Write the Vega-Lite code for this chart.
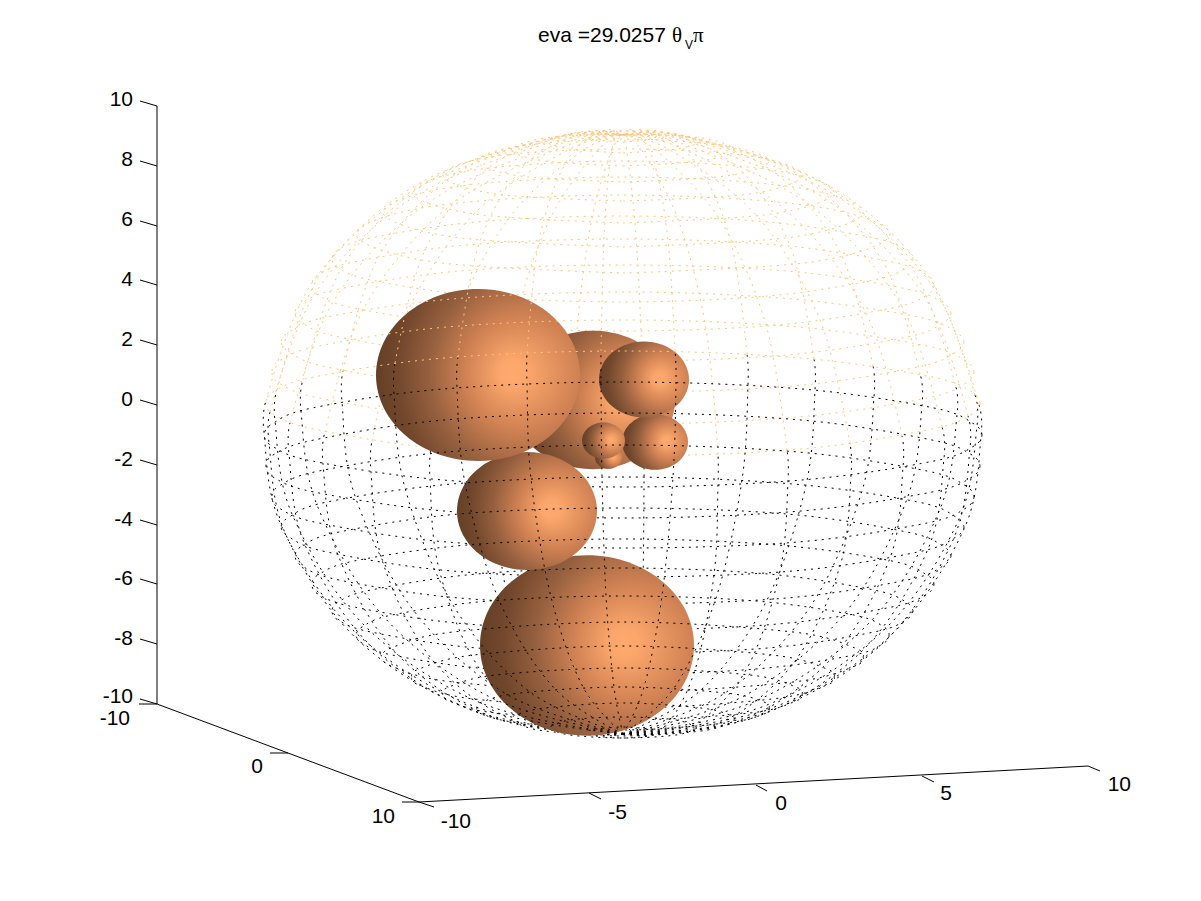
{"$schema":"https://vega.github.io/schema/vega-lite/v6.json","width":1201,"height":901,"padding":0,"autosize":{"type":"fit","contains":"padding"},"background":"white","config":{"view":{"stroke":null}},
"datasets":{
"farBlack":[
{"g":1,"u":982,"v":435},{"g":1,"u":974,"v":446},{"g":1,"u":934,"v":461},{"g":1,"u":802,"v":480},{"g":1,"u":623,"v":487},{"g":1,"u":443,"v":480},{"g":1,"u":312,"v":461},{"g":1,"u":272,"v":446},{"g":1,"u":264,"v":435},
{"g":2,"u":980,"v":466},{"g":2,"u":972,"v":477},{"g":2,"u":932,"v":492},{"g":2,"u":801,"v":511},{"g":2,"u":623,"v":518},{"g":2,"u":444,"v":511},{"g":2,"u":314,"v":492},{"g":2,"u":273,"v":477},{"g":2,"u":266,"v":466},
{"g":3,"u":974,"v":497},{"g":3,"u":966,"v":508},{"g":3,"u":927,"v":523},{"g":3,"u":798,"v":542},{"g":3,"u":623,"v":548},{"g":3,"u":447,"v":542},{"g":3,"u":319,"v":523},{"g":3,"u":279,"v":508},{"g":3,"u":272,"v":497},
{"g":4,"u":964,"v":527},{"g":4,"u":956,"v":537},{"g":4,"u":918,"v":552},{"g":4,"u":793,"v":571},{"g":4,"u":623,"v":577},{"g":4,"u":452,"v":571},{"g":4,"u":327,"v":552},{"g":4,"u":289,"v":537},{"g":4,"u":281,"v":527},
{"g":5,"u":951,"v":556},{"g":5,"u":943,"v":566},{"g":5,"u":907,"v":580},{"g":5,"u":787,"v":598},{"g":5,"u":623,"v":604},{"g":5,"u":459,"v":598},{"g":5,"u":339,"v":580},{"g":5,"u":302,"v":566},{"g":5,"u":295,"v":556},
{"g":6,"u":934,"v":584},{"g":6,"u":927,"v":594},{"g":6,"u":892,"v":607},{"g":6,"u":778,"v":624},{"g":6,"u":623,"v":630},{"g":6,"u":467,"v":624},{"g":6,"u":354,"v":607},{"g":6,"u":318,"v":594},{"g":6,"u":312,"v":584},
{"g":7,"u":913,"v":611},{"g":7,"u":906,"v":620},{"g":7,"u":874,"v":632},{"g":7,"u":768,"v":648},{"g":7,"u":623,"v":653},{"g":7,"u":477,"v":648},{"g":7,"u":371,"v":632},{"g":7,"u":338,"v":620},{"g":7,"u":332,"v":611},
{"g":8,"u":889,"v":635},{"g":8,"u":884,"v":643},{"g":8,"u":854,"v":655},{"g":8,"u":756,"v":669},{"g":8,"u":623,"v":674},{"g":8,"u":489,"v":669},{"g":8,"u":392,"v":655},{"g":8,"u":362,"v":643},{"g":8,"u":356,"v":635},
{"g":9,"u":863,"v":657},{"g":9,"u":855,"v":666},{"g":9,"u":793,"v":682},{"g":9,"u":623,"v":692},{"g":9,"u":453,"v":682},{"g":9,"u":391,"v":666},{"g":9,"u":383,"v":657},
{"g":10,"u":834,"v":677},{"g":10,"u":827,"v":685},{"g":10,"u":772,"v":699},{"g":10,"u":623,"v":708},{"g":10,"u":474,"v":699},{"g":10,"u":419,"v":685},{"g":10,"u":412,"v":677},
{"g":11,"u":802,"v":694},{"g":11,"u":796,"v":701},{"g":11,"u":750,"v":713},{"g":11,"u":623,"v":720},{"g":11,"u":496,"v":713},{"g":11,"u":449,"v":701},{"g":11,"u":443,"v":694},
{"g":12,"u":769,"v":708},{"g":12,"u":764,"v":714},{"g":12,"u":726,"v":723},{"g":12,"u":623,"v":730},{"g":12,"u":520,"v":723},{"g":12,"u":482,"v":714},{"g":12,"u":477,"v":708},
{"g":13,"u":734,"v":719},{"g":13,"u":730,"v":723},{"g":13,"u":701,"v":731},{"g":13,"u":623,"v":736},{"g":13,"u":545,"v":731},{"g":13,"u":516,"v":723},{"g":13,"u":512,"v":719},
{"g":14,"u":697,"v":728},{"g":14,"u":676,"v":735},{"g":14,"u":623,"v":738},{"g":14,"u":570,"v":735},{"g":14,"u":548,"v":728},
{"g":15,"u":660,"v":732},{"g":15,"u":649,"v":736},{"g":15,"u":623,"v":738},{"g":15,"u":596,"v":736},{"g":15,"u":585,"v":732},
{"g":21,"u":623,"v":734},{"g":21,"u":769,"v":709},{"g":21,"u":889,"v":637},{"g":21,"u":964,"v":529},{"g":21,"u":981,"v":437},{"g":21,"u":979,"v":405},
{"g":22,"u":623,"v":734},{"g":22,"u":764,"v":713},{"g":22,"u":881,"v":645},{"g":22,"u":953,"v":540},{"g":22,"u":970,"v":448},{"g":22,"u":968,"v":416},
{"g":23,"u":623,"v":734},{"g":23,"u":753,"v":718},{"g":23,"u":861,"v":652},{"g":23,"u":928,"v":549},{"g":23,"u":944,"v":458},{"g":23,"u":942,"v":427},
{"g":24,"u":623,"v":734},{"g":24,"u":737,"v":722},{"g":24,"u":831,"v":659},{"g":24,"u":890,"v":558},{"g":24,"u":903,"v":467},{"g":24,"u":902,"v":436},
{"g":25,"u":623,"v":734},{"g":25,"u":715,"v":725},{"g":25,"u":792,"v":665},{"g":25,"u":840,"v":566},{"g":25,"u":851,"v":475},{"g":25,"u":850,"v":444},
{"g":26,"u":623,"v":734},{"g":26,"u":690,"v":727},{"g":26,"u":746,"v":670},{"g":26,"u":780,"v":571},{"g":26,"u":788,"v":481},{"g":26,"u":787,"v":450},
{"g":27,"u":623,"v":734},{"g":27,"u":662,"v":729},{"g":27,"u":694,"v":673},{"g":27,"u":714,"v":575},{"g":27,"u":718,"v":485},{"g":27,"u":718,"v":454},
{"g":28,"u":623,"v":734},{"g":28,"u":631,"v":730},{"g":28,"u":639,"v":674},{"g":28,"u":643,"v":577},{"g":28,"u":644,"v":487},{"g":28,"u":644,"v":456},
{"g":29,"u":623,"v":734},{"g":29,"u":601,"v":729},{"g":29,"u":583,"v":674},{"g":29,"u":572,"v":577},{"g":29,"u":569,"v":487},{"g":29,"u":570,"v":455},
{"g":30,"u":623,"v":734},{"g":30,"u":571,"v":728},{"g":30,"u":529,"v":672},{"g":30,"u":503,"v":574},{"g":30,"u":497,"v":484},{"g":30,"u":498,"v":452},
{"g":31,"u":623,"v":734},{"g":31,"u":544,"v":726},{"g":31,"u":479,"v":668},{"g":31,"u":439,"v":569},{"g":31,"u":430,"v":479},{"g":31,"u":431,"v":448},
{"g":32,"u":623,"v":734},{"g":32,"u":520,"v":723},{"g":32,"u":435,"v":663},{"g":32,"u":383,"v":563},{"g":32,"u":371,"v":472},{"g":32,"u":372,"v":441},
{"g":33,"u":623,"v":734},{"g":33,"u":501,"v":720},{"g":33,"u":400,"v":657},{"g":33,"u":338,"v":555},{"g":33,"u":323,"v":464},{"g":33,"u":325,"v":432},
{"g":34,"u":623,"v":734},{"g":34,"u":487,"v":716},{"g":34,"u":374,"v":649},{"g":34,"u":305,"v":545},{"g":34,"u":289,"v":454},{"g":34,"u":290,"v":423},
{"g":35,"u":623,"v":734},{"g":35,"u":478,"v":712},{"g":35,"u":359,"v":641},{"g":35,"u":286,"v":535},{"g":35,"u":269,"v":443},{"g":35,"u":270,"v":412}
],
"farOrange":[
{"g":1,"u":980,"v":403},{"g":1,"u":972,"v":414},{"g":1,"u":932,"v":429},{"g":1,"u":801,"v":449},{"g":1,"u":623,"v":456},{"g":1,"u":444,"v":449},{"g":1,"u":314,"v":429},{"g":1,"u":273,"v":414},{"g":1,"u":266,"v":403},
{"g":2,"u":974,"v":372},{"g":2,"u":966,"v":383},{"g":2,"u":927,"v":398},{"g":2,"u":798,"v":417},{"g":2,"u":623,"v":424},{"g":2,"u":447,"v":417},{"g":2,"u":319,"v":398},{"g":2,"u":279,"v":383},{"g":2,"u":272,"v":372},
{"g":3,"u":964,"v":342},{"g":3,"u":956,"v":352},{"g":3,"u":918,"v":367},{"g":3,"u":793,"v":386},{"g":3,"u":623,"v":392},{"g":3,"u":452,"v":386},{"g":3,"u":327,"v":367},{"g":3,"u":289,"v":352},{"g":3,"u":281,"v":342},
{"g":4,"u":951,"v":313},{"g":4,"u":943,"v":323},{"g":4,"u":907,"v":337},{"g":4,"u":787,"v":355},{"g":4,"u":623,"v":361},{"g":4,"u":459,"v":355},{"g":4,"u":339,"v":337},{"g":4,"u":302,"v":323},{"g":4,"u":295,"v":313},
{"g":5,"u":934,"v":285},{"g":5,"u":927,"v":295},{"g":5,"u":892,"v":308},{"g":5,"u":778,"v":325},{"g":5,"u":623,"v":331},{"g":5,"u":467,"v":325},{"g":5,"u":354,"v":308},{"g":5,"u":318,"v":295},{"g":5,"u":312,"v":285},
{"g":6,"u":913,"v":259},{"g":6,"u":906,"v":268},{"g":6,"u":874,"v":280},{"g":6,"u":768,"v":296},{"g":6,"u":623,"v":302},{"g":6,"u":477,"v":296},{"g":6,"u":371,"v":280},{"g":6,"u":338,"v":268},{"g":6,"u":332,"v":259},
{"g":7,"u":623,"v":273},{"g":7,"u":812,"v":262},{"g":7,"u":890,"v":234},{"g":7,"u":812,"v":206},{"g":7,"u":623,"v":195},{"g":7,"u":434,"v":206},{"g":7,"u":356,"v":234},{"g":7,"u":434,"v":262},{"g":7,"u":623,"v":273},
{"g":8,"u":623,"v":247},{"g":8,"u":793,"v":237},{"g":8,"u":863,"v":212},{"g":8,"u":793,"v":187},{"g":8,"u":623,"v":177},{"g":8,"u":453,"v":187},{"g":8,"u":383,"v":212},{"g":8,"u":453,"v":237},{"g":8,"u":623,"v":247},
{"g":9,"u":623,"v":223},{"g":9,"u":772,"v":214},{"g":9,"u":834,"v":192},{"g":9,"u":772,"v":170},{"g":9,"u":623,"v":161},{"g":9,"u":474,"v":170},{"g":9,"u":412,"v":192},{"g":9,"u":474,"v":214},{"g":9,"u":623,"v":223},
{"g":10,"u":623,"v":201},{"g":10,"u":750,"v":194},{"g":10,"u":802,"v":175},{"g":10,"u":750,"v":156},{"g":10,"u":623,"v":149},{"g":10,"u":496,"v":156},{"g":10,"u":443,"v":175},{"g":10,"u":496,"v":194},{"g":10,"u":623,"v":201},
{"g":11,"u":623,"v":182},{"g":11,"u":726,"v":176},{"g":11,"u":769,"v":161},{"g":11,"u":726,"v":146},{"g":11,"u":623,"v":139},{"g":11,"u":520,"v":146},{"g":11,"u":477,"v":161},{"g":11,"u":520,"v":176},{"g":11,"u":623,"v":182},
{"g":12,"u":623,"v":166},{"g":12,"u":701,"v":161},{"g":12,"u":734,"v":150},{"g":12,"u":701,"v":138},{"g":12,"u":623,"v":134},{"g":12,"u":545,"v":138},{"g":12,"u":512,"v":150},{"g":12,"u":545,"v":161},{"g":12,"u":623,"v":166},
{"g":13,"u":623,"v":153},{"g":13,"u":676,"v":149},{"g":13,"u":697,"v":142},{"g":13,"u":676,"v":134},{"g":13,"u":623,"v":131},{"g":13,"u":570,"v":134},{"g":13,"u":548,"v":142},{"g":13,"u":570,"v":149},{"g":13,"u":623,"v":153},
{"g":14,"u":623,"v":142},{"g":14,"u":649,"v":140},{"g":14,"u":660,"v":137},{"g":14,"u":649,"v":133},{"g":14,"u":623,"v":131},{"g":14,"u":596,"v":133},{"g":14,"u":585,"v":137},{"g":14,"u":596,"v":140},{"g":14,"u":623,"v":142},
{"g":21,"u":979,"v":405},{"g":21,"u":933,"v":287},{"g":21,"u":833,"v":194},{"g":21,"u":697,"v":142},{"g":21,"u":623,"v":135},
{"g":22,"u":968,"v":416},{"g":22,"u":924,"v":296},{"g":22,"u":827,"v":200},{"g":22,"u":695,"v":144},{"g":22,"u":623,"v":135},
{"g":23,"u":942,"v":427},{"g":23,"u":901,"v":305},{"g":23,"u":811,"v":206},{"g":23,"u":689,"v":146},{"g":23,"u":623,"v":135},
{"g":24,"u":902,"v":436},{"g":24,"u":866,"v":313},{"g":24,"u":788,"v":212},{"g":24,"u":681,"v":148},{"g":24,"u":623,"v":135},
{"g":25,"u":850,"v":444},{"g":25,"u":820,"v":320},{"g":25,"u":757,"v":216},{"g":25,"u":670,"v":150},{"g":25,"u":623,"v":135},
{"g":26,"u":787,"v":450},{"g":26,"u":766,"v":325},{"g":26,"u":720,"v":220},{"g":26,"u":657,"v":151},{"g":26,"u":623,"v":135},
{"g":27,"u":718,"v":454},{"g":27,"u":706,"v":329},{"g":27,"u":679,"v":222},{"g":27,"u":643,"v":152},{"g":27,"u":623,"v":135},
{"g":28,"u":644,"v":456},{"g":28,"u":641,"v":331},{"g":28,"u":635,"v":223},{"g":28,"u":627,"v":152},{"g":28,"u":623,"v":135},
{"g":29,"u":570,"v":455},{"g":29,"u":577,"v":330},{"g":29,"u":591,"v":223},{"g":29,"u":611,"v":152},{"g":29,"u":623,"v":135},
{"g":30,"u":498,"v":452},{"g":30,"u":514,"v":328},{"g":30,"u":549,"v":221},{"g":30,"u":596,"v":152},{"g":30,"u":623,"v":135},
{"g":31,"u":431,"v":448},{"g":31,"u":455,"v":323},{"g":31,"u":509,"v":218},{"g":31,"u":582,"v":151},{"g":31,"u":623,"v":135},
{"g":32,"u":372,"v":441},{"g":32,"u":405,"v":317},{"g":32,"u":474,"v":214},{"g":32,"u":570,"v":149},{"g":32,"u":623,"v":135},
{"g":33,"u":325,"v":432},{"g":33,"u":363,"v":310},{"g":33,"u":446,"v":209},{"g":33,"u":560,"v":148},{"g":33,"u":623,"v":135},
{"g":34,"u":290,"v":423},{"g":34,"u":333,"v":302},{"g":34,"u":426,"v":204},{"g":34,"u":553,"v":146},{"g":34,"u":623,"v":135},
{"g":35,"u":270,"v":412},{"g":35,"u":316,"v":292},{"g":35,"u":414,"v":197},{"g":35,"u":549,"v":143},{"g":35,"u":623,"v":135}
],
"nearBlack":[
{"g":1,"u":982,"v":435},{"g":1,"u":974,"v":424},{"g":1,"u":934,"v":408},{"g":1,"u":802,"v":389},{"g":1,"u":623,"v":382},{"g":1,"u":443,"v":389},{"g":1,"u":312,"v":408},{"g":1,"u":272,"v":424},{"g":1,"u":264,"v":435},
{"g":2,"u":980,"v":466},{"g":2,"u":972,"v":455},{"g":2,"u":932,"v":440},{"g":2,"u":801,"v":420},{"g":2,"u":623,"v":413},{"g":2,"u":444,"v":420},{"g":2,"u":314,"v":440},{"g":2,"u":273,"v":455},{"g":2,"u":266,"v":466},
{"g":3,"u":974,"v":497},{"g":3,"u":966,"v":486},{"g":3,"u":927,"v":471},{"g":3,"u":798,"v":452},{"g":3,"u":623,"v":445},{"g":3,"u":447,"v":452},{"g":3,"u":319,"v":471},{"g":3,"u":279,"v":486},{"g":3,"u":272,"v":497},
{"g":4,"u":964,"v":527},{"g":4,"u":956,"v":517},{"g":4,"u":918,"v":502},{"g":4,"u":793,"v":484},{"g":4,"u":623,"v":477},{"g":4,"u":452,"v":484},{"g":4,"u":327,"v":502},{"g":4,"u":289,"v":517},{"g":4,"u":281,"v":527},
{"g":5,"u":951,"v":556},{"g":5,"u":943,"v":546},{"g":5,"u":907,"v":532},{"g":5,"u":787,"v":514},{"g":5,"u":623,"v":508},{"g":5,"u":459,"v":514},{"g":5,"u":339,"v":532},{"g":5,"u":302,"v":546},{"g":5,"u":295,"v":556},
{"g":6,"u":934,"v":584},{"g":6,"u":927,"v":575},{"g":6,"u":892,"v":561},{"g":6,"u":778,"v":545},{"g":6,"u":623,"v":539},{"g":6,"u":467,"v":545},{"g":6,"u":354,"v":561},{"g":6,"u":318,"v":575},{"g":6,"u":312,"v":584},
{"g":7,"u":913,"v":611},{"g":7,"u":906,"v":602},{"g":7,"u":874,"v":590},{"g":7,"u":768,"v":574},{"g":7,"u":623,"v":568},{"g":7,"u":477,"v":574},{"g":7,"u":371,"v":590},{"g":7,"u":338,"v":602},{"g":7,"u":332,"v":611},
{"g":8,"u":889,"v":635},{"g":8,"u":884,"v":627},{"g":8,"u":854,"v":615},{"g":8,"u":756,"v":601},{"g":8,"u":623,"v":596},{"g":8,"u":489,"v":601},{"g":8,"u":392,"v":615},{"g":8,"u":362,"v":627},{"g":8,"u":356,"v":635},
{"g":9,"u":863,"v":657},{"g":9,"u":855,"v":648},{"g":9,"u":793,"v":632},{"g":9,"u":623,"v":622},{"g":9,"u":453,"v":632},{"g":9,"u":391,"v":648},{"g":9,"u":383,"v":657},
{"g":10,"u":834,"v":677},{"g":10,"u":827,"v":669},{"g":10,"u":772,"v":655},{"g":10,"u":623,"v":646},{"g":10,"u":474,"v":655},{"g":10,"u":419,"v":669},{"g":10,"u":412,"v":677},
{"g":11,"u":802,"v":694},{"g":11,"u":796,"v":687},{"g":11,"u":750,"v":675},{"g":11,"u":623,"v":668},{"g":11,"u":496,"v":675},{"g":11,"u":449,"v":687},{"g":11,"u":443,"v":694},
{"g":12,"u":769,"v":708},{"g":12,"u":764,"v":702},{"g":12,"u":726,"v":693},{"g":12,"u":623,"v":687},{"g":12,"u":520,"v":693},{"g":12,"u":482,"v":702},{"g":12,"u":477,"v":708},
{"g":13,"u":734,"v":719},{"g":13,"u":730,"v":715},{"g":13,"u":701,"v":708},{"g":13,"u":623,"v":703},{"g":13,"u":545,"v":708},{"g":13,"u":516,"v":715},{"g":13,"u":512,"v":719},
{"g":14,"u":697,"v":728},{"g":14,"u":676,"v":720},{"g":14,"u":623,"v":717},{"g":14,"u":570,"v":720},{"g":14,"u":548,"v":728},
{"g":15,"u":660,"v":732},{"g":15,"u":649,"v":729},{"g":15,"u":623,"v":727},{"g":15,"u":596,"v":729},{"g":15,"u":585,"v":732},
{"g":21,"u":623,"v":734},{"g":21,"u":767,"v":705},{"g":21,"u":886,"v":628},{"g":21,"u":959,"v":519},{"g":21,"u":977,"v":426},{"g":21,"u":975,"v":395},
{"g":22,"u":623,"v":734},{"g":22,"u":758,"v":700},{"g":22,"u":871,"v":621},{"g":22,"u":940,"v":509},{"g":22,"u":957,"v":415},{"g":22,"u":955,"v":384},
{"g":23,"u":623,"v":734},{"g":23,"u":744,"v":696},{"g":23,"u":845,"v":613},{"g":23,"u":907,"v":499},{"g":23,"u":922,"v":405},{"g":23,"u":920,"v":374},
{"g":24,"u":623,"v":734},{"g":24,"u":725,"v":693},{"g":24,"u":810,"v":607},{"g":24,"u":862,"v":491},{"g":24,"u":874,"v":397},{"g":24,"u":873,"v":366},
{"g":25,"u":623,"v":734},{"g":25,"u":701,"v":690},{"g":25,"u":766,"v":602},{"g":25,"u":806,"v":485},{"g":25,"u":815,"v":390},{"g":25,"u":814,"v":359},
{"g":26,"u":623,"v":734},{"g":26,"u":674,"v":688},{"g":26,"u":716,"v":598},{"g":26,"u":742,"v":480},{"g":26,"u":748,"v":385},{"g":26,"u":747,"v":354},
{"g":27,"u":623,"v":734},{"g":27,"u":644,"v":687},{"g":27,"u":662,"v":596},{"g":27,"u":673,"v":477},{"g":27,"u":676,"v":382},{"g":27,"u":675,"v":351},
{"g":28,"u":623,"v":734},{"g":28,"u":614,"v":687},{"g":28,"u":606,"v":596},{"g":28,"u":602,"v":477},{"g":28,"u":601,"v":382},{"g":28,"u":601,"v":351},
{"g":29,"u":623,"v":734},{"g":29,"u":583,"v":687},{"g":29,"u":551,"v":597},{"g":29,"u":531,"v":479},{"g":29,"u":527,"v":384},{"g":29,"u":527,"v":353},
{"g":30,"u":623,"v":734},{"g":30,"u":555,"v":689},{"g":30,"u":499,"v":600},{"g":30,"u":465,"v":483},{"g":30,"u":457,"v":388},{"g":30,"u":458,"v":357},
{"g":31,"u":623,"v":734},{"g":31,"u":530,"v":692},{"g":31,"u":453,"v":605},{"g":31,"u":405,"v":488},{"g":31,"u":394,"v":394},{"g":31,"u":395,"v":363},
{"g":32,"u":623,"v":734},{"g":32,"u":508,"v":695},{"g":32,"u":414,"v":611},{"g":32,"u":355,"v":496},{"g":32,"u":342,"v":402},{"g":32,"u":343,"v":371},
{"g":33,"u":623,"v":734},{"g":33,"u":492,"v":698},{"g":33,"u":384,"v":617},{"g":33,"u":317,"v":505},{"g":33,"u":301,"v":411},{"g":33,"u":303,"v":380},
{"g":34,"u":623,"v":734},{"g":34,"u":481,"v":703},{"g":34,"u":364,"v":625},{"g":34,"u":292,"v":514},{"g":34,"u":275,"v":421},{"g":34,"u":277,"v":390},
{"g":35,"u":623,"v":734},{"g":35,"u":476,"v":707},{"g":35,"u":356,"v":633},{"g":35,"u":281,"v":525},{"g":35,"u":264,"v":432},{"g":35,"u":266,"v":401}
],
"nearOrange":[
{"g":1,"u":980,"v":403},{"g":1,"u":972,"v":392},{"g":1,"u":932,"v":377},{"g":1,"u":801,"v":358},{"g":1,"u":623,"v":351},{"g":1,"u":444,"v":358},{"g":1,"u":314,"v":377},{"g":1,"u":273,"v":392},{"g":1,"u":266,"v":403},
{"g":2,"u":974,"v":372},{"g":2,"u":966,"v":361},{"g":2,"u":927,"v":346},{"g":2,"u":798,"v":327},{"g":2,"u":623,"v":320},{"g":2,"u":447,"v":327},{"g":2,"u":319,"v":346},{"g":2,"u":279,"v":361},{"g":2,"u":272,"v":372},
{"g":3,"u":964,"v":342},{"g":3,"u":956,"v":332},{"g":3,"u":918,"v":317},{"g":3,"u":793,"v":299},{"g":3,"u":623,"v":292},{"g":3,"u":452,"v":299},{"g":3,"u":327,"v":317},{"g":3,"u":289,"v":332},{"g":3,"u":281,"v":342},
{"g":4,"u":951,"v":313},{"g":4,"u":943,"v":303},{"g":4,"u":907,"v":289},{"g":4,"u":787,"v":271},{"g":4,"u":623,"v":265},{"g":4,"u":459,"v":271},{"g":4,"u":339,"v":289},{"g":4,"u":302,"v":303},{"g":4,"u":295,"v":313},
{"g":5,"u":934,"v":285},{"g":5,"u":927,"v":275},{"g":5,"u":892,"v":262},{"g":5,"u":778,"v":245},{"g":5,"u":623,"v":239},{"g":5,"u":467,"v":245},{"g":5,"u":354,"v":262},{"g":5,"u":318,"v":275},{"g":5,"u":312,"v":285},
{"g":6,"u":913,"v":259},{"g":6,"u":906,"v":250},{"g":6,"u":874,"v":238},{"g":6,"u":768,"v":222},{"g":6,"u":623,"v":216},{"g":6,"u":477,"v":222},{"g":6,"u":371,"v":238},{"g":6,"u":338,"v":250},{"g":6,"u":332,"v":259},
{"g":21,"u":975,"v":395},{"g":21,"u":929,"v":277},{"g":21,"u":831,"v":187},{"g":21,"u":696,"v":140},{"g":21,"u":623,"v":135},
{"g":22,"u":955,"v":384},{"g":22,"u":912,"v":268},{"g":22,"u":819,"v":181},{"g":22,"u":692,"v":138},{"g":22,"u":623,"v":135},
{"g":23,"u":920,"v":374},{"g":23,"u":882,"v":260},{"g":23,"u":799,"v":175},{"g":23,"u":685,"v":136},{"g":23,"u":623,"v":135},
{"g":24,"u":873,"v":366},{"g":24,"u":840,"v":252},{"g":24,"u":771,"v":170},{"g":24,"u":675,"v":134},{"g":24,"u":623,"v":135},
{"g":25,"u":814,"v":359},{"g":25,"u":790,"v":246},{"g":25,"u":736,"v":166},{"g":25,"u":663,"v":132},{"g":25,"u":623,"v":135},
{"g":26,"u":747,"v":354},{"g":26,"u":731,"v":242},{"g":26,"u":696,"v":163},{"g":26,"u":649,"v":131},{"g":26,"u":623,"v":135},
{"g":27,"u":675,"v":351},{"g":27,"u":668,"v":240},{"g":27,"u":654,"v":162},{"g":27,"u":634,"v":131},{"g":27,"u":623,"v":135},
{"g":28,"u":601,"v":351},{"g":28,"u":604,"v":239},{"g":28,"u":610,"v":161},{"g":28,"u":618,"v":131},{"g":28,"u":623,"v":135},
{"g":29,"u":527,"v":353},{"g":29,"u":539,"v":241},{"g":29,"u":566,"v":162},{"g":29,"u":602,"v":131},{"g":29,"u":623,"v":135},
{"g":30,"u":458,"v":357},{"g":30,"u":479,"v":244},{"g":30,"u":525,"v":165},{"g":30,"u":588,"v":132},{"g":30,"u":623,"v":135},
{"g":31,"u":395,"v":363},{"g":31,"u":425,"v":250},{"g":31,"u":488,"v":168},{"g":31,"u":575,"v":133},{"g":31,"u":623,"v":135},
{"g":32,"u":343,"v":371},{"g":32,"u":379,"v":256},{"g":32,"u":457,"v":173},{"g":32,"u":564,"v":135},{"g":32,"u":623,"v":135},
{"g":33,"u":303,"v":380},{"g":33,"u":344,"v":264},{"g":33,"u":434,"v":178},{"g":33,"u":556,"v":137},{"g":33,"u":623,"v":135},
{"g":34,"u":277,"v":390},{"g":34,"u":321,"v":273},{"g":34,"u":418,"v":184},{"g":34,"u":550,"v":139},{"g":34,"u":623,"v":135},
{"g":35,"u":266,"v":401},{"g":35,"u":312,"v":283},{"g":35,"u":412,"v":191},{"g":35,"u":548,"v":141},{"g":35,"u":623,"v":135}
],
"spheres":[
{"u":593,"v":400,"d":164},{"u":608.5,"v":457.5,"d":27},{"u":655,"v":442,"d":66},{"u":603.5,"v":440.5,"d":43},{"u":644,"v":379.5,"d":90},{"u":587,"v":645.5,"d":214},{"u":527,"v":511,"d":140},{"u":478,"v":375,"d":204}
],
"lines":[
{"u":157,"v":106,"u2":157,"v2":704},{"u":157,"v":704,"u2":419,"v2":802},{"u":419,"v":802,"u2":1088,"v2":766},
{"u":157,"v":106,"u2":140,"v2":101},{"u":157,"v":166,"u2":140,"v2":161},{"u":157,"v":226,"u2":140,"v2":221},{"u":157,"v":285,"u2":140,"v2":280},{"u":157,"v":345,"u2":140,"v2":340},{"u":157,"v":405,"u2":140,"v2":400},{"u":157,"v":465,"u2":140,"v2":460},{"u":157,"v":525,"u2":140,"v2":520},{"u":157,"v":584,"u2":140,"v2":579},{"u":157,"v":644,"u2":140,"v2":639},{"u":157,"v":704,"u2":140,"v2":699},
{"u":157,"v":704,"u2":139,"v2":704},{"u":288,"v":753,"u2":270,"v2":753},{"u":419,"v":802,"u2":402,"v2":802},
{"u":419,"v":802,"u2":434,"v2":807},{"u":589,"v":793,"u2":601,"v2":799},{"u":756,"v":785,"u2":767,"v2":791},{"u":922,"v":776,"u2":934,"v2":782},{"u":1088,"v":766,"u2":1100,"v2":771}
],
"ticks":[
{"u":133,"v":100,"t":"10"},{"u":133,"v":160,"t":"8"},{"u":133,"v":220,"t":"6"},{"u":133,"v":280,"t":"4"},{"u":133,"v":340,"t":"2"},{"u":133,"v":400,"t":"0"},{"u":133,"v":460,"t":"-2"},{"u":133,"v":520,"t":"-4"},{"u":133,"v":579,"t":"-6"},{"u":133,"v":639,"t":"-8"},{"u":133,"v":697,"t":"-10"},
{"u":130,"v":719,"t":"-10"},{"u":263,"v":767,"t":"0"},{"u":395,"v":817,"t":"10"},
{"u":471,"v":822,"t":"-10"},{"u":627,"v":813,"t":"-5"},{"u":787,"v":804,"t":"0"},{"u":952,"v":794,"t":"5"},{"u":1131,"v":785,"t":"10"}
]
},
"encoding":{
"x":{"field":"u","type":"quantitative","axis":null,"scale":{"domain":[0,1201],"nice":false,"zero":false}},
"y":{"field":"v","type":"quantitative","axis":null,"scale":{"domain":[901,0],"nice":false,"zero":false}}
},
"layer":[
{"data":{"name":"farBlack"},"mark":{"type":"line","interpolate":"cardinal","color":"#000000","strokeWidth":1,"strokeDash":[2,5]},"encoding":{"detail":{"field":"g"},"order":{"value":null}}},
{"data":{"name":"farOrange"},"mark":{"type":"line","interpolate":"cardinal","color":"#ffc67a","strokeWidth":1,"strokeDash":[2,5]},"encoding":{"detail":{"field":"g"},"order":{"value":null}}},
{"data":{"name":"spheres"},"mark":{"type":"point","filled":true,"opacity":1,"strokeWidth":0,"shape":"M-1,0A1,0.843,0,1,1,1,0A1,0.843,0,1,1,-1,0Z","fill":{"gradient":"radial","x1":0.66,"y1":0.49,"r1":0,"x2":0.83,"y2":0.49,"r2":0.86,"stops":[{"offset":0,"color":"#ffa96d"},{"offset":0.08,"color":"#fba66b"},{"offset":0.33,"color":"#cf8153"},{"offset":0.58,"color":"#96603f"},{"offset":0.8,"color":"#73482d"},{"offset":0.95,"color":"#654026"},{"offset":1,"color":"#634025"}]}},"encoding":{"size":{"field":"d","type":"quantitative","legend":null,"scale":{"type":"pow","exponent":2,"domain":[0,1000],"range":[0,1000000]}},"order":{"value":null}}},
{"data":{"name":"nearBlack"},"mark":{"type":"line","interpolate":"cardinal","color":"#000000","strokeWidth":1,"strokeDash":[2,5]},"encoding":{"detail":{"field":"g"},"order":{"value":null}}},
{"data":{"name":"nearOrange"},"mark":{"type":"line","interpolate":"cardinal","color":"#ffc67a","strokeWidth":1,"strokeDash":[2,5]},"encoding":{"detail":{"field":"g"},"order":{"value":null}}},
{"data":{"name":"lines"},"mark":{"type":"rule","color":"#000000","strokeWidth":1},"encoding":{"x2":{"field":"u2"},"y2":{"field":"v2"}}},
{"data":{"name":"ticks"},"mark":{"type":"text","align":"right","baseline":"middle","font":"Liberation Sans","fontSize":21,"color":"#000000"},"encoding":{"text":{"field":"t","type":"nominal"}}},
{"data":{"values":[{"u":538,"v":42,"t":"eva =29.0257"}]},"mark":{"type":"text","align":"left","baseline":"alphabetic","font":"Liberation Sans","fontSize":21,"color":"#000000"},"encoding":{"text":{"field":"t","type":"nominal"}}},
{"data":{"values":[{"u":672,"v":42,"t":"θ"},{"u":693,"v":42,"t":"π"}]},"mark":{"type":"text","align":"left","baseline":"alphabetic","font":"Liberation Serif","fontSize":21,"color":"#000000"},"encoding":{"text":{"field":"t","type":"nominal"}}},
{"data":{"values":[{"u":685,"v":49,"t":"V"}]},"mark":{"type":"text","align":"left","baseline":"alphabetic","font":"Liberation Sans","fontSize":12,"color":"#000000"},"encoding":{"text":{"field":"t","type":"nominal"}}}
]}
